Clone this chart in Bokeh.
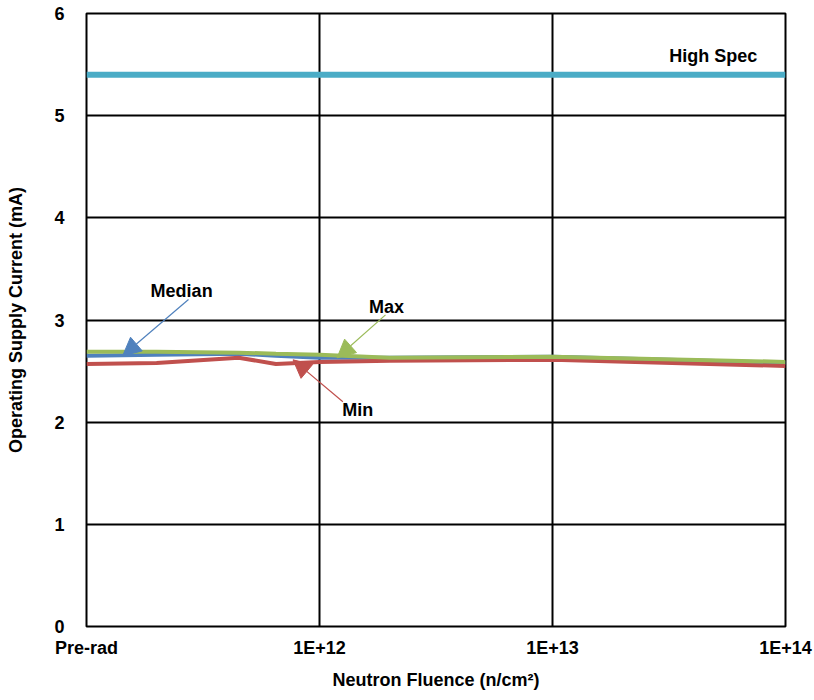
from bokeh.plotting import figure
from bokeh.models import FixedTicker, Arrow, NormalHead, Label
from bokeh.embed import file_html
from bokeh.resources import INLINE

# ---- data ----
fluence = [1e11, 2e11, 4.5e11, 6.5e11, 1e12, 2e12, 1e13, 1e14]   # 1e11 position = "Pre-rad"
min_vals = [2.57, 2.58, 2.63, 2.57, 2.59, 2.60, 2.61, 2.55]
median_vals = [2.65, 2.66, 2.67, 2.65, 2.63, 2.63, 2.64, 2.58]
max_vals = [2.69, 2.69, 2.68, 2.67, 2.66, 2.63, 2.64, 2.59]
high_spec = 5.4

x_ticks = [1e11, 1e12, 1e13, 1e14]
x_tick_labels = ["Pre-rad", "1E+12", "1E+13", "1E+14"]
y_ticks = [0, 1, 2, 3, 4, 5, 6]

# annotation anchors (label text, label pos, arrow tail, arrow tip)
ann_names = ["Median", "Max", "Min"]
ann_label_x = [2.56e11, 1.94e12, 1.46e12]
ann_label_y = [3.28, 3.13, 2.12]
ann_tail_x = [2.74e11, 1.92e12, 1.26e12]
ann_tail_y = [3.20, 3.05, 2.20]
ann_tip_x = [1.43e11, 1.19e12, 7.7e11]
ann_tip_y = [2.65, 2.63, 2.61]
ann_colors = ["#4F81BD", "#9BBB59", "#C0504D"]
spec_label_x, spec_label_y = 4.9e13, 5.58

FONT = "Liberation Sans"
FS = "18px"

p = figure(width=814, height=700, x_axis_type="log", x_range=(1e11, 1e14), y_range=(0, 6),
           output_backend="svg", toolbar_location=None,
           min_border_left=86, min_border_right=29, min_border_top=13, min_border_bottom=74)

p.outline_line_color = "black"
p.outline_line_width = 2
p.background_fill_color = "white"
p.border_fill_color = "white"

p.xaxis.ticker = FixedTicker(ticks=x_ticks, minor_ticks=[])
p.xaxis.major_label_overrides = {t: l for t, l in zip(x_ticks, x_tick_labels)}
p.yaxis.ticker = FixedTicker(ticks=y_ticks, minor_ticks=[])

for ax in (p.xaxis[0], p.yaxis[0]):
    ax.axis_line_color = None
    ax.major_tick_line_color = None
    ax.minor_tick_line_color = None
    ax.major_label_text_font = FONT
    ax.major_label_text_font_style = "bold"
    ax.major_label_text_font_size = FS
    ax.major_label_text_color = "black"
    ax.axis_label_text_font = FONT
    ax.axis_label_text_font_style = "bold"
    ax.axis_label_text_font_size = FS
    ax.axis_label_text_color = "black"

p.xaxis.axis_label = "Neutron Fluence (n/cm²)"
p.yaxis.axis_label = "Operating Supply Current (mA)"
p.xaxis.major_label_standoff = 5
p.xaxis.axis_label_standoff = 9
p.yaxis.major_label_standoff = 16
p.yaxis.axis_label_standoff = 25

p.xgrid.grid_line_color = "black"
p.xgrid.grid_line_width = 2
p.ygrid.grid_line_color = "black"
p.ygrid.grid_line_width = 2

# High spec line
p.line([x_ticks[0], x_ticks[-1]], [high_spec, high_spec], line_color="#4BACC6", line_width=6)

p.line(fluence, median_vals, line_color="#4F81BD", line_width=4)
p.line(fluence, min_vals, line_color="#C0504D", line_width=4)
p.line(fluence, max_vals, line_color="#9BBB59", line_width=4)

for name, lx, ly, tx, ty, hx, hy, c in zip(ann_names, ann_label_x, ann_label_y, ann_tail_x,
                                           ann_tail_y, ann_tip_x, ann_tip_y, ann_colors):
    p.add_layout(Arrow(end=NormalHead(size=18, fill_color=c, line_color=c, line_width=1),
                       x_start=tx, y_start=ty, x_end=hx, y_end=hy,
                       line_color=c, line_width=1.2))
    p.add_layout(Label(x=lx, y=ly, text=name, text_font=FONT, text_font_style="bold",
                       text_font_size=FS, text_align="center", text_baseline="middle",
                       text_color="black"))

p.add_layout(Label(x=spec_label_x, y=spec_label_y, text="High Spec", text_font=FONT,
                   text_font_style="bold", text_font_size=FS, text_align="center",
                   text_baseline="middle", text_color="black"))

open("out.html", "w").write(file_html(p, INLINE))
